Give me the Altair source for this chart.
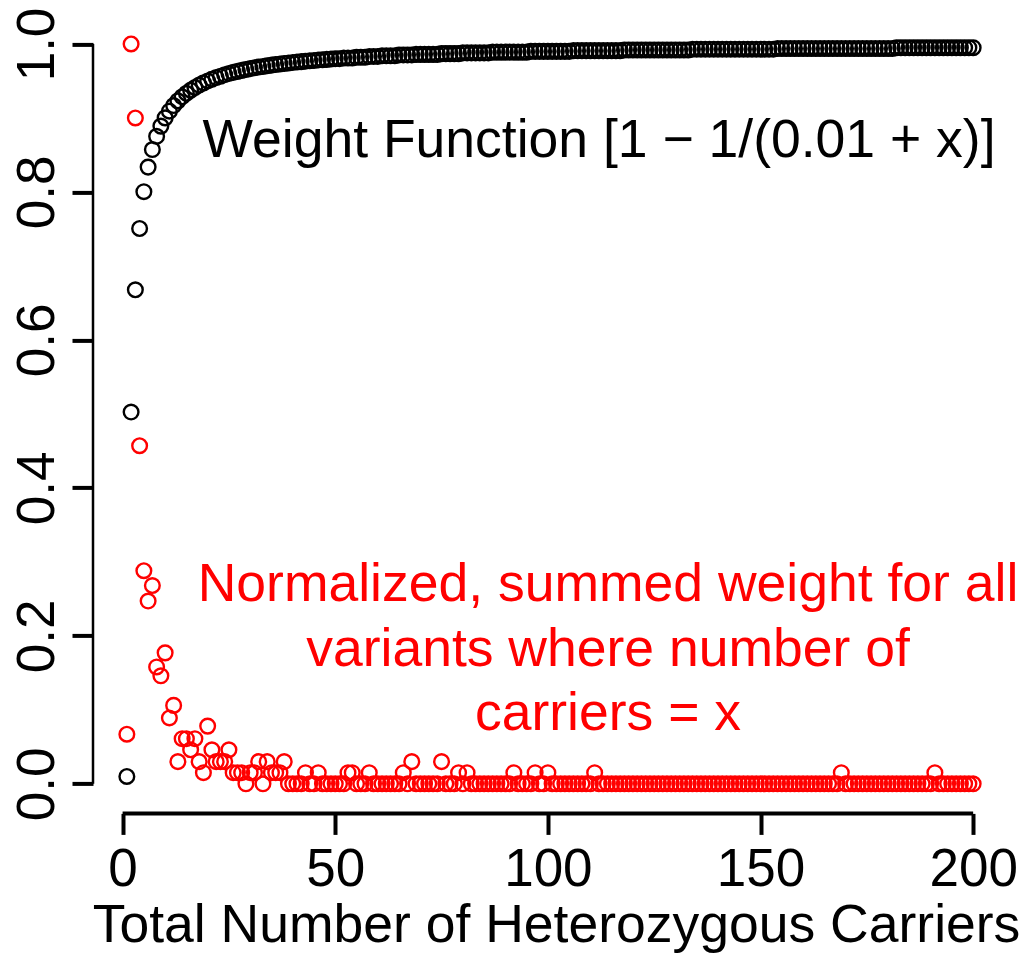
import altair as alt
import pandas as pd

# ---------------- data ----------------
carriers = list(range(1, 201))

weight_fn = [
    0.0099, 0.5025, 0.6678, 0.7506, 0.8004, 0.8336, 0.8573, 0.8752, 0.8890, 0.9001,
    0.9092, 0.9168, 0.9231, 0.9286, 0.9334, 0.9375, 0.9412, 0.9445, 0.9474, 0.9500,
    0.9524, 0.9546, 0.9565, 0.9584, 0.9600, 0.9616, 0.9630, 0.9643, 0.9655, 0.9667,
    0.9678, 0.9688, 0.9697, 0.9706, 0.9714, 0.9722, 0.9730, 0.9737, 0.9744, 0.9750,
    0.9756, 0.9762, 0.9767, 0.9773, 0.9778, 0.9783, 0.9787, 0.9792, 0.9796, 0.9800,
    0.980, 0.981, 0.981, 0.981, 0.982, 0.982, 0.982, 0.983, 0.983, 0.983,
    0.984, 0.984, 0.984, 0.984, 0.985, 0.985, 0.985, 0.985, 0.986, 0.986,
    0.986, 0.986, 0.986, 0.986, 0.987, 0.987, 0.987, 0.987, 0.987, 0.988,
    0.988, 0.988, 0.988, 0.988, 0.988, 0.988, 0.989, 0.989, 0.989, 0.989,
    0.989, 0.989, 0.989, 0.989, 0.989, 0.990, 0.990, 0.990, 0.990, 0.990,
    0.990, 0.990, 0.990, 0.990, 0.990, 0.991, 0.991, 0.991, 0.991, 0.991,
    0.991, 0.991, 0.991, 0.991, 0.991, 0.991, 0.991, 0.992, 0.992, 0.992,
    0.992, 0.992, 0.992, 0.992, 0.992, 0.992, 0.992, 0.992, 0.992, 0.992,
    0.992, 0.992, 0.992, 0.993, 0.993, 0.993, 0.993, 0.993, 0.993, 0.993,
    0.993, 0.993, 0.993, 0.993, 0.993, 0.993, 0.993, 0.993, 0.993, 0.993,
    0.993, 0.993, 0.993, 0.994, 0.994, 0.994, 0.994, 0.994, 0.994, 0.994,
    0.994, 0.994, 0.994, 0.994, 0.994, 0.994, 0.994, 0.994, 0.994, 0.994,
    0.994, 0.994, 0.994, 0.994, 0.994, 0.994, 0.994, 0.994, 0.994, 0.994,
    0.994, 0.995, 0.995, 0.995, 0.995, 0.995, 0.995, 0.995, 0.995, 0.995,
    0.995, 0.995, 0.995, 0.995, 0.995, 0.995, 0.995, 0.995, 0.995, 0.995,
]

summed_weight = [
    0.067, 1.000, 0.900, 0.457, 0.288, 0.247, 0.268, 0.158, 0.146, 0.177,
    0.089, 0.106, 0.030, 0.061, 0.061, 0.046, 0.061, 0.030, 0.015, 0.078,
    0.046, 0.030, 0.030, 0.030, 0.046, 0.015, 0.015, 0.015, 0.000, 0.015,
    0.015, 0.030, 0.000, 0.030, 0.015, 0.015, 0.015, 0.030, 0.000, 0.000,
    0.000, 0.000, 0.015, 0.000, 0.000, 0.015, 0.000, 0.000, 0.000, 0.000,
    0.000, 0.000, 0.015, 0.015, 0.000, 0.000, 0.000, 0.015, 0.000, 0.000,
    0.000, 0.000, 0.000, 0.000, 0.000, 0.015, 0.000, 0.030, 0.000, 0.000,
    0.000, 0.000, 0.000, 0.000, 0.030, 0.000, 0.000, 0.000, 0.015, 0.000,
    0.015, 0.000, 0.000, 0.000, 0.000, 0.000, 0.000, 0.000, 0.000, 0.000,
    0.000, 0.015, 0.000, 0.000, 0.000, 0.000, 0.015, 0.000, 0.000, 0.015,
    0.000, 0.000, 0.000, 0.000, 0.000, 0.000, 0.000, 0.000, 0.000, 0.000,
    0.015, 0.000, 0.000, 0.000, 0.000, 0.000, 0.000, 0.000, 0.000, 0.000,
    0.000, 0.000, 0.000, 0.000, 0.000, 0.000, 0.000, 0.000, 0.000, 0.000,
    0.000, 0.000, 0.000, 0.000, 0.000, 0.000, 0.000, 0.000, 0.000, 0.000,
    0.000, 0.000, 0.000, 0.000, 0.000, 0.000, 0.000, 0.000, 0.000, 0.000,
    0.000, 0.000, 0.000, 0.000, 0.000, 0.000, 0.000, 0.000, 0.000, 0.000,
    0.000, 0.000, 0.000, 0.000, 0.000, 0.000, 0.000, 0.000, 0.015, 0.000,
    0.000, 0.000, 0.000, 0.000, 0.000, 0.000, 0.000, 0.000, 0.000, 0.000,
    0.000, 0.000, 0.000, 0.000, 0.000, 0.000, 0.000, 0.000, 0.000, 0.000,
    0.015, 0.000, 0.000, 0.000, 0.000, 0.000, 0.000, 0.000, 0.000, 0.000,
]

x_ticks = [0, 50, 100, 150, 200]
y_ticks = [0.0, 0.2, 0.4, 0.6, 0.8, 1.0]

x_title = "Total Number of Heterozygous Carriers"
weight_label = "Weight Function [1 \u2212 1/(0.01 + x)]"
summed_label = [
    "Normalized, summed weight for all",
    "variants where number of",
    "carriers = x",
]

# ---------------- chart ----------------
df = pd.DataFrame({"x": carriers, "w": weight_fn, "s": summed_weight})

W, H = 914, 799
FONT = "Liberation Sans"
FS = 53
TFS = 53.5

xscale = alt.Scale(domain=[-6.96, 207.96], nice=False, zero=False)
yscale = alt.Scale(domain=[-0.04, 1.04], nice=False, zero=False)

xaxis = alt.Axis(
    values=x_ticks, format="d", domain=False, grid=False,
    tickSize=21, tickWidth=4, tickColor="black",
    labelFont=FONT, labelFontSize=FS, labelColor="black",
    labelBaseline="alphabetic", labelAlign="center", labelPadding=51,
    labelFlush=False, labelOverlap=False,
    title=x_title, titleFont=FONT, titleFontSize=TFS, titleFontWeight="normal",
    titleColor="black", titleX=463, titleY=128, titleBaseline="alphabetic",
    titleAlign="center",
)
yaxis = alt.Axis(
    values=y_ticks, format=".1f", domain=False, grid=False,
    tickSize=21, tickWidth=4, tickColor="black",
    labelFont=FONT, labelFontSize=FS, labelColor="black",
    labelAngle=270, labelAlign="center", labelBaseline="alphabetic",
    labelPadding=19, labelFlush=False, labelOverlap=False,
    title=None,
)

base = alt.Chart(df)

black_pts = base.mark_point(
    shape="circle", filled=False, size=215, strokeWidth=2.4, color="black", opacity=1
).encode(
    x=alt.X("x:Q", scale=xscale, axis=xaxis),
    y=alt.Y("w:Q", scale=yscale, axis=yaxis),
)

red_pts = base.mark_point(
    shape="circle", filled=False, size=215, strokeWidth=2.4, color="#FF0000", opacity=1
).encode(
    x=alt.X("x:Q", scale=xscale, axis=xaxis),
    y=alt.Y("s:Q", scale=yscale, axis=yaxis),
)

x_line = alt.Chart(pd.DataFrame({"x0": [x_ticks[0]], "x1": [x_ticks[-1]]})).mark_rule(
    strokeWidth=4, color="black"
).encode(
    x=alt.X("x0:Q", scale=xscale, axis=xaxis),
    x2="x1:Q",
    y=alt.value(H),
)

y_line = alt.Chart(pd.DataFrame({"y0": [y_ticks[0]], "y1": [y_ticks[-1]]})).mark_rule(
    strokeWidth=2.5, color="black"
).encode(
    y=alt.Y("y0:Q", scale=yscale, axis=yaxis),
    y2="y1:Q",
    x=alt.value(0),
)

weight_text = alt.Chart(pd.DataFrame({"t": [weight_label]})).mark_text(
    font=FONT, fontSize=TFS, color="black", align="center", baseline="alphabetic"
).encode(text="t:N", x=alt.value(506), y=alt.value(142.6))

red_texts = []
for i, line in enumerate(summed_label):
    red_texts.append(
        alt.Chart(pd.DataFrame({"t": [line]})).mark_text(
            font=FONT, fontSize=TFS, color="#FF0000", align="center", baseline="alphabetic"
        ).encode(text="t:N", x=alt.value(515), y=alt.value(586.6 + 64.5 * i))
    )

chart = alt.layer(
    x_line, y_line, black_pts, red_pts, weight_text, *red_texts
).properties(
    width=W, height=H,
    background="white",
    padding={"left": 93, "top": 14.4, "right": 22, "bottom": 152.6},
    autosize=alt.AutoSizeParams(type="none"),
).configure_view(stroke="transparent", strokeWidth=0)

chart.save("out.html", embed_options={"renderer": "svg", "actions": False})
